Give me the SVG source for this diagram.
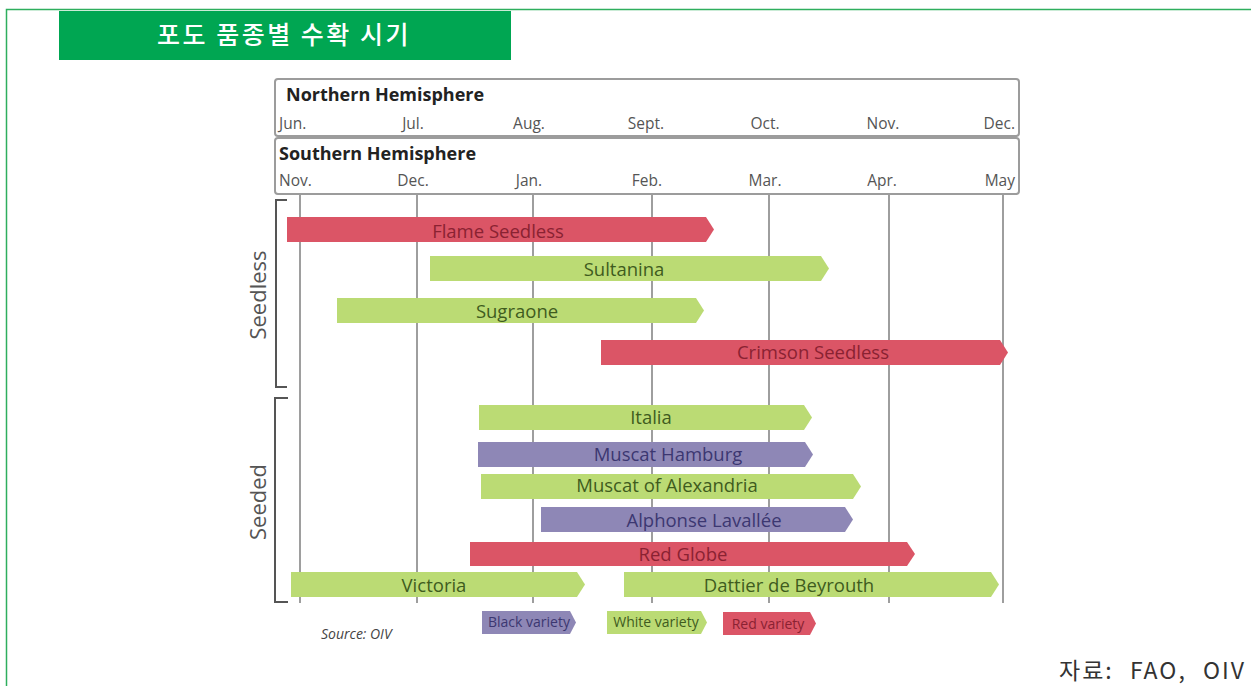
<svg xmlns="http://www.w3.org/2000/svg" width="1251" height="686" viewBox="0 0 1251 686">
<style>
.frame{fill:none;stroke:#2EAE5E;stroke-width:1.5}
.hdr{fill:#fff;stroke:#9c9c9c;stroke-width:2}
.hem{font-family:"Open Sans","Liberation Sans",sans-serif;font-weight:bold;font-size:18px;fill:#222}
.mon{font-family:"Open Sans","Liberation Sans",sans-serif;font-size:15.5px;fill:#555}
.grid{stroke:#9e9e9e;stroke-width:2}
.brk{fill:none;stroke:#555;stroke-width:2}
.grp{font-family:"Open Sans","Liberation Sans",sans-serif;font-size:22px;fill:#555}
.red{fill:#DB5566}
.grn{fill:#BBDB74}
.pur{fill:#8E87B6}
.lbl{font-family:"Open Sans","Liberation Sans",sans-serif;font-size:18.5px;text-anchor:middle}
.tr{fill:#8A2232}
.tg{fill:#3F5C1E}
.tp{fill:#3C3771}
.leg{font-family:"Open Sans","Liberation Sans",sans-serif;font-size:14px;text-anchor:middle}
</style>
<rect width="1251" height="686" fill="#fff"/>
<path class="frame" d="M6.5,686 V9.5 H1251"/>
<g id="title">
<rect x="59" y="11" width="452" height="49" fill="#00A652"/>
<text x="284" y="44" text-anchor="middle" font-family="'Noto Sans CJK KR','Noto Sans',sans-serif" font-size="25" font-weight="500" letter-spacing="2.5" fill="#fff">포도 품종별 수확 시기</text>
</g>
<g id="northern">
<rect class="hdr" x="275" y="79" width="744" height="57" rx="3"/>
<text class="hem" x="286" y="101">Northern Hemisphere</text>
<text class="mon" x="279" y="129">Jun.</text>
<text class="mon" x="413" y="129" text-anchor="middle">Jul.</text>
<text class="mon" x="529" y="129" text-anchor="middle">Aug.</text>
<text class="mon" x="646" y="129" text-anchor="middle">Sept.</text>
<text class="mon" x="765" y="129" text-anchor="middle">Oct.</text>
<text class="mon" x="883" y="129" text-anchor="middle">Nov.</text>
<text class="mon" x="1015" y="129" text-anchor="end">Dec.</text>
</g>
<g id="southern">
<rect class="hdr" x="275" y="138" width="744" height="56" rx="3"/>
<text class="hem" x="279" y="160">Southern Hemisphere</text>
<text class="mon" x="279" y="186">Nov.</text>
<text class="mon" x="413" y="186" text-anchor="middle">Dec.</text>
<text class="mon" x="529" y="186" text-anchor="middle">Jan.</text>
<text class="mon" x="647" y="186" text-anchor="middle">Feb.</text>
<text class="mon" x="765" y="186" text-anchor="middle">Mar.</text>
<text class="mon" x="882" y="186" text-anchor="middle">Apr.</text>
<text class="mon" x="1015" y="186" text-anchor="end">May</text>
</g>
<g id="grid">
<line class="grid" x1="300" y1="195" x2="300" y2="603"/>
<line class="grid" x1="417" y1="195" x2="417" y2="603"/>
<line class="grid" x1="533" y1="195" x2="533" y2="603"/>
<line class="grid" x1="652" y1="195" x2="652" y2="603"/>
<line class="grid" x1="769" y1="195" x2="769" y2="603"/>
<line class="grid" x1="889" y1="195" x2="889" y2="603"/>
<line class="grid" x1="1003" y1="195" x2="1003" y2="603"/>
</g>
<g id="seedless-group">
<path class="brk" d="M287,200 H276 V387 H287"/>
<text class="grp" transform="translate(266,295) rotate(-90)" text-anchor="middle">Seedless</text>
</g>
<g id="seeded-group">
<path class="brk" d="M288,398 H275 V602 H288"/>
<text class="grp" transform="translate(266,502) rotate(-90)" text-anchor="middle">Seeded</text>
</g>
<g id="flame-seedless">
<path class="red" d="M287,217 H706 L714,229.5 L706,242 H287 Z"/>
<text class="lbl tr" x="498" y="238">Flame Seedless</text>
</g>
<g id="sultanina">
<path class="grn" d="M430,256 H821 L829,268.5 L821,281 H430 Z"/>
<text class="lbl tg" x="624" y="276">Sultanina</text>
</g>
<g id="sugraone">
<path class="grn" d="M337,298 H696 L704,310.5 L696,323 H337 Z"/>
<text class="lbl tg" x="517" y="318">Sugraone</text>
</g>
<g id="crimson-seedless">
<path class="red" d="M601,340 H1000 L1008,352.5 L1000,365 H601 Z"/>
<text class="lbl tr" x="813" y="359">Crimson Seedless</text>
</g>
<g id="italia">
<path class="grn" d="M479,405 H804 L812,417.5 L804,430 H479 Z"/>
<text class="lbl tg" x="651" y="424">Italia</text>
</g>
<g id="muscat-hamburg">
<path class="pur" d="M478,442 H805 L813,454.5 L805,467 H478 Z"/>
<text class="lbl tp" x="668" y="461">Muscat Hamburg</text>
</g>
<g id="muscat-of-alexandria">
<path class="grn" d="M481,474 H853 L861,486.5 L853,499 H481 Z"/>
<text class="lbl tg" x="667" y="492">Muscat of Alexandria</text>
</g>
<g id="alphonse-lavallee">
<path class="pur" d="M541,507 H845 L853,519.5 L845,532 H541 Z"/>
<text class="lbl tp" x="704" y="527">Alphonse Lavallée</text>
</g>
<g id="red-globe">
<path class="red" d="M470,542 H907 L915,554 L907,566 H470 Z"/>
<text class="lbl tr" x="683" y="561">Red Globe</text>
</g>
<g id="victoria">
<path class="grn" d="M291,572 H577 L585,584.5 L577,597 H291 Z"/>
<text class="lbl tg" x="434" y="592">Victoria</text>
</g>
<g id="dattier-de-beyrouth">
<path class="grn" d="M624,572 H991 L999,584.5 L991,597 H624 Z"/>
<text class="lbl tg" x="789" y="592">Dattier de Beyrouth</text>
</g>
<g id="legend">
<path class="pur" d="M482,611 H570 L576,622.5 L570,634 H482 Z"/>
<text class="leg tp" x="529" y="627">Black variety</text>
<path class="grn" d="M607,611 H701 L707,622.5 L701,634 H607 Z"/>
<text class="leg tg" x="656" y="627">White variety</text>
<path class="red" d="M723,612 H810 L816,623.5 L810,635 H723 Z"/>
<text class="leg tr" x="768" y="629">Red variety</text>
</g>
<text x="321" y="639" font-family="'Open Sans','Liberation Sans',sans-serif" font-size="14" font-style="italic" fill="#444">Source: OIV</text>
<text x="1246" y="679" text-anchor="end" font-family="'Noto Sans CJK KR','Noto Sans',sans-serif" font-size="23" letter-spacing="2" word-spacing="9" fill="#333">자료: FAO, OIV</text>
</svg>
